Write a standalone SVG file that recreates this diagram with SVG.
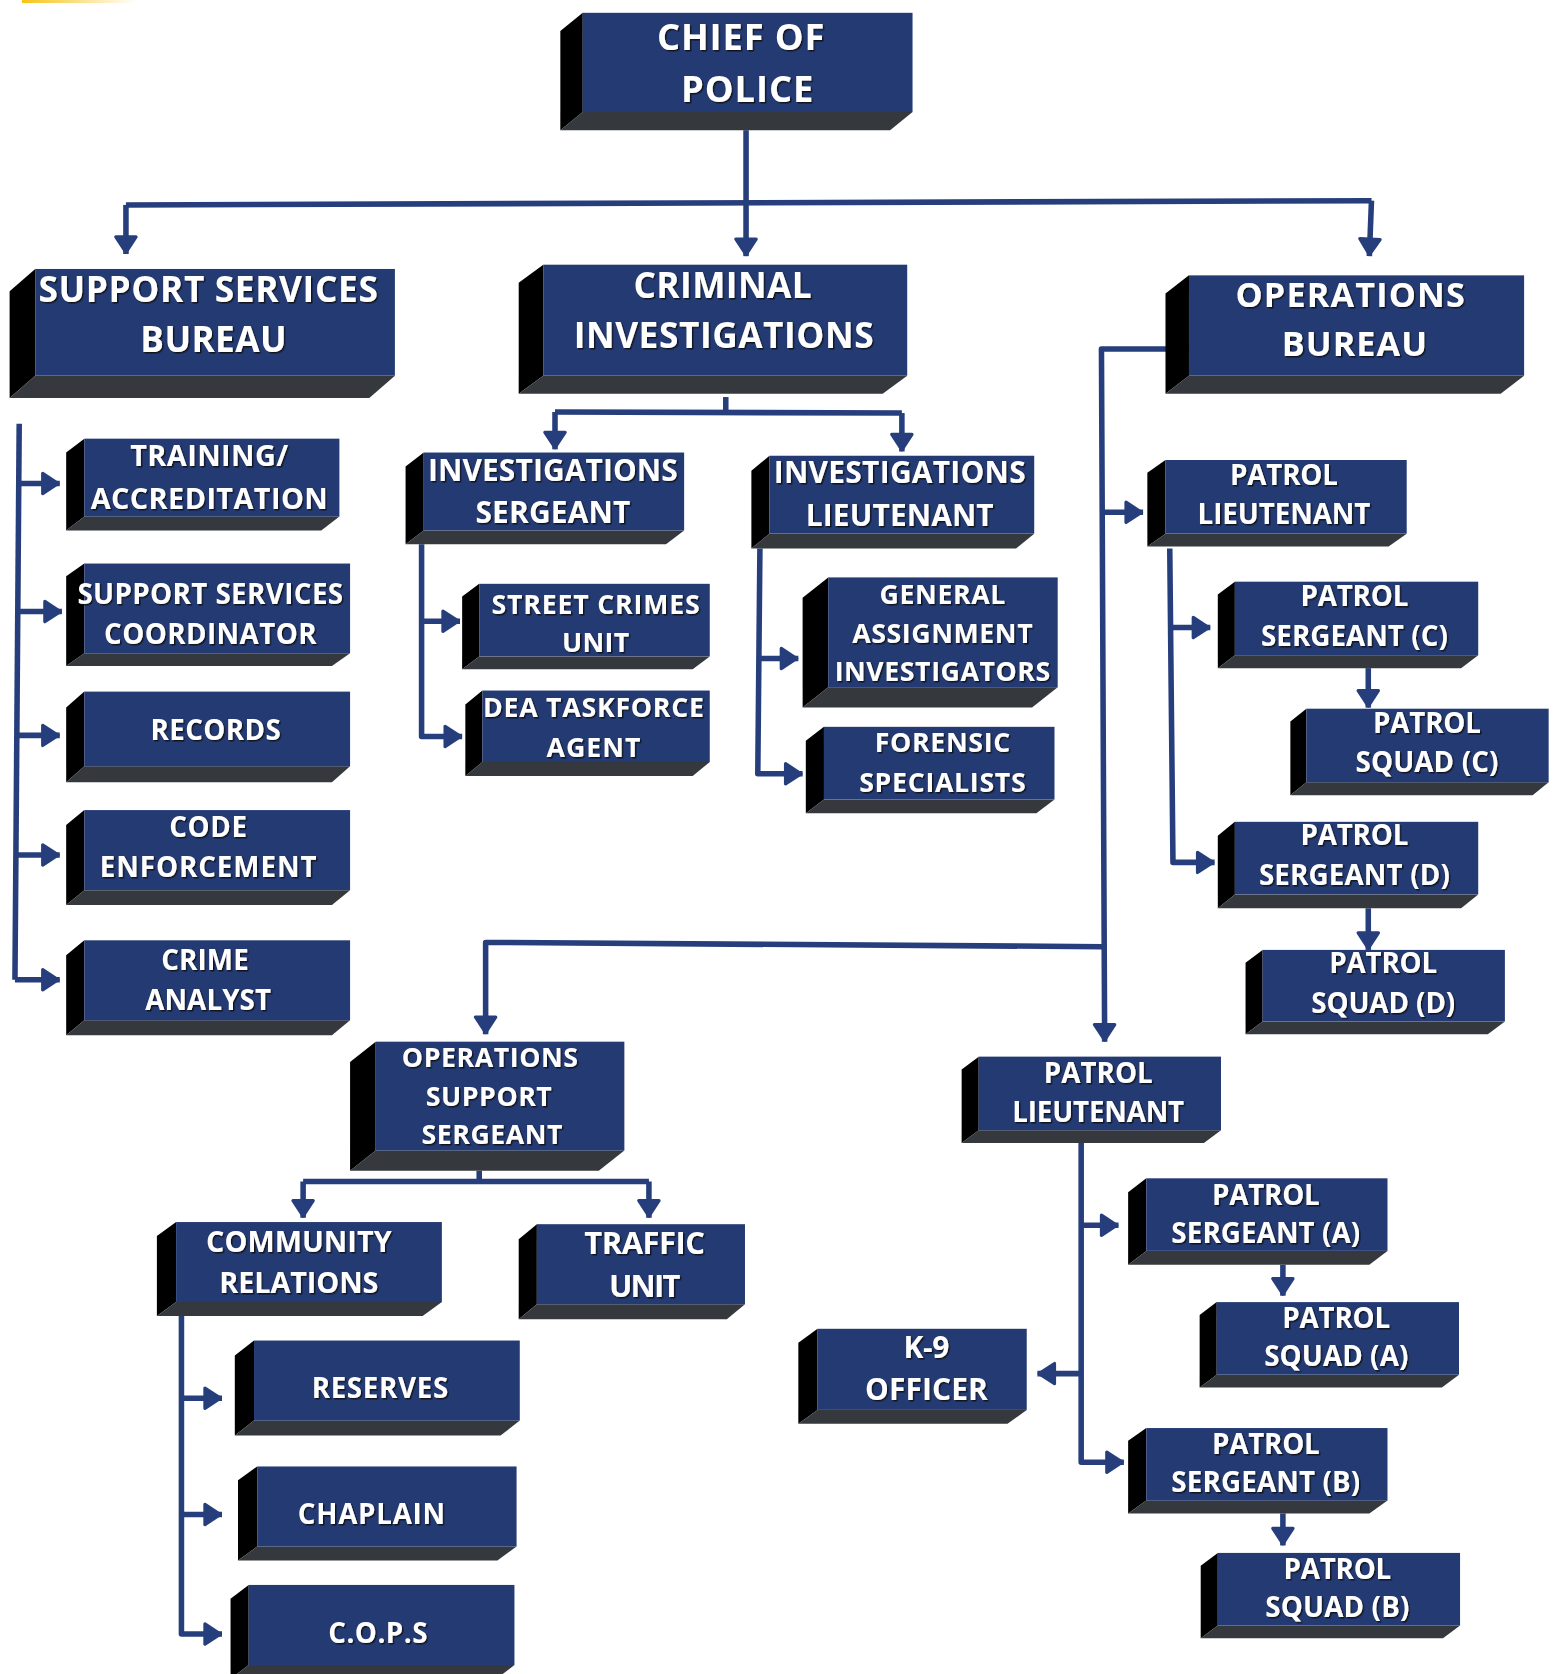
<svg xmlns="http://www.w3.org/2000/svg" width="1554" height="1674" viewBox="0 0 1554 1674">
<defs>
<style>
.f{fill:#243a73}.s{fill:#000}.b{fill:#35383c}
.t{font-family:"Open Sans","Noto Sans","Liberation Sans",sans-serif;font-weight:700;fill:#fff;text-anchor:middle;filter:url(#sh)}
.c{fill:none;stroke:#263e7b;stroke-width:5.2;stroke-linejoin:round}
.a{marker-end:url(#ah)}
</style>
<filter id="sh" x="-10%" y="-30%" width="120%" height="160%">
<feDropShadow dx="1.3" dy="1.3" stdDeviation="0.7" flood-color="#111" flood-opacity="0.85"/>
</filter>
<marker id="ah" viewBox="-20 -14 24 28" refX="0" refY="0" markerWidth="24" markerHeight="28" orient="auto" markerUnits="userSpaceOnUse">
<path d="M-16,-9.5 L-1.5,0 L-16,9.5 Z" fill="#263e7b" stroke="#263e7b" stroke-width="3" stroke-linejoin="round"/>
</marker>
<linearGradient id="yg" x1="0" x2="1"><stop offset="0" stop-color="#f5c518"/><stop offset="1" stop-color="#f5c518" stop-opacity="0"/></linearGradient>
</defs>
<rect width="1554" height="1674" fill="#fff"/>
<rect x="22" y="0" width="115" height="3" fill="url(#yg)"/>
<g transform="scale(1.0673)">
<g id="connectors">
<path class="c a" d="M699,122 L699,240"/>
<path class="c" d="M118,192 L1285,188"/>
<path class="c a" d="M118,192 L118,238"/>
<path class="c a" d="M1285,188 L1283,240"/>
<path class="c" d="M18,397 L14,918"/>
<path class="c a" d="M16,453 L56,453"/>
<path class="c a" d="M16,573 L58,573"/>
<path class="c a" d="M16,689 L56,689"/>
<path class="c a" d="M15,801 L56,801"/>
<path class="c a" d="M14,918 L56,918"/>
<path class="c" d="M680,372 L680,386"/>
<path class="c" d="M520,386 L845,387"/>
<path class="c a" d="M520,386 L520,421"/>
<path class="c a" d="M845,387 L845,423"/>
<path class="c a" d="M395,510 L395,690 L433,690"/>
<path class="c a" d="M395,582 L431,582"/>
<path class="c a" d="M712,514 L710,725 L752,725"/>
<path class="c a" d="M711,617 L748,617"/>
<path class="c a" d="M1114,327 L1032,327 L1035,976"/>
<path class="c a" d="M1033,480 L1071,480"/>
<path class="c a" d="M1033,887 L455,883 L455,969"/>
<path class="c a" d="M1096,514 L1099,808 L1138,808"/>
<path class="c a" d="M1097,588 L1134,588"/>
<path class="c a" d="M1282,626 L1282,663"/>
<path class="c a" d="M1282,851 L1282,890"/>
<path class="c" d="M449,1097 L449,1107"/>
<path class="c" d="M284,1107 L608,1107"/>
<path class="c a" d="M284,1107 L284,1141"/>
<path class="c a" d="M608,1107 L608,1141"/>
<path class="c a" d="M170,1233 L170,1531 L208,1531"/>
<path class="c a" d="M170,1310 L208,1310"/>
<path class="c a" d="M170,1419 L208,1419"/>
<path class="c a" d="M1013,1071 L1013,1370 L1053,1370"/>
<path class="c a" d="M1013,1148 L1048,1148"/>
<path class="c a" d="M1013,1287 L972,1287"/>
<path class="c a" d="M1202,1185 L1202,1214"/>
<path class="c a" d="M1202,1418 L1202,1448"/>
</g>

<g id="chief">
<polygon class="s" points="546,12 525,29 525,122 546,105"/><polygon class="b" points="546,105 525,122 834,122 855,105"/><rect class="f" x="546" y="12" width="309" height="93"/>
<text class="t" font-size="34" x="694" y="47" textLength="157" lengthAdjust="spacing">CHIEF OF</text>
<text class="t" font-size="34" x="700" y="96" textLength="124" lengthAdjust="spacing">POLICE</text>
</g>

<g id="support-services-bureau">
<polygon class="s" points="33,252 9,273 9,373 33,352"/><polygon class="b" points="33,352 9,373 346,373 370,352"/><rect class="f" x="33" y="252" width="337" height="100"/>
<text class="t" font-size="33" x="195" y="283" textLength="318" lengthAdjust="spacing">SUPPORT SERVICES</text>
<text class="t" font-size="33" x="200" y="330" textLength="137" lengthAdjust="spacing">BUREAU</text>
</g>

<g id="criminal-investigations">
<polygon class="s" points="509,248 486,265 486,369 509,352"/><polygon class="b" points="509,352 486,369 827,369 850,352"/><rect class="f" x="509" y="248" width="341" height="104"/>
<text class="t" font-size="33" x="677" y="279" textLength="167" lengthAdjust="spacing">CRIMINAL</text>
<text class="t" font-size="33" x="678" y="326" textLength="281" lengthAdjust="spacing">INVESTIGATIONS</text>
</g>

<g id="operations-bureau">
<polygon class="s" points="1114,258 1092,275 1092,369 1114,352"/><polygon class="b" points="1114,352 1092,369 1406,369 1428,352"/><rect class="f" x="1114" y="258" width="314" height="94"/>
<text class="t" font-size="32" x="1265" y="288" textLength="215" lengthAdjust="spacing">OPERATIONS</text>
<text class="t" font-size="32" x="1269" y="334" textLength="136" lengthAdjust="spacing">BUREAU</text>
</g>

<g id="training-accreditation">
<polygon class="s" points="79,411 62,424 62,497 79,484"/><polygon class="b" points="79,484 62,497 301,497 318,484"/><rect class="f" x="79" y="411" width="239" height="73"/>
<text class="t" font-size="27" x="196" y="437" textLength="148" lengthAdjust="spacing">TRAINING/</text>
<text class="t" font-size="27" x="196" y="477" textLength="222" lengthAdjust="spacing">ACCREDITATION</text>
</g>

<g id="support-services-coordinator">
<polygon class="s" points="79,528 62,540 62,624 79,612"/><polygon class="b" points="79,612 62,624 311,624 328,612"/><rect class="f" x="79" y="528" width="249" height="84"/>
<text class="t" font-size="26" x="197" y="566" textLength="249" lengthAdjust="spacing">SUPPORT SERVICES</text>
<text class="t" font-size="26" x="197" y="603" textLength="199" lengthAdjust="spacing">COORDINATOR</text>
</g>

<g id="records">
<polygon class="s" points="79,648 62,663 62,733 79,718"/><polygon class="b" points="79,718 62,733 311,733 328,718"/><rect class="f" x="79" y="648" width="249" height="70"/>
<text class="t" font-size="26" x="202" y="693" textLength="122" lengthAdjust="spacing">RECORDS</text>
</g>

<g id="code-enforcement">
<polygon class="s" points="79,759 62,773 62,848 79,834"/><polygon class="b" points="79,834 62,848 311,848 328,834"/><rect class="f" x="79" y="759" width="249" height="75"/>
<text class="t" font-size="26" x="195" y="784" textLength="73" lengthAdjust="spacing">CODE</text>
<text class="t" font-size="26" x="195" y="822" textLength="203" lengthAdjust="spacing">ENFORCEMENT</text>
</g>

<g id="crime-analyst">
<polygon class="s" points="79,881 62,895 62,970 79,956"/><polygon class="b" points="79,956 62,970 311,970 328,956"/><rect class="f" x="79" y="881" width="249" height="75"/>
<text class="t" font-size="26" x="192" y="909" textLength="82" lengthAdjust="spacing">CRIME</text>
<text class="t" font-size="26" x="195" y="946" textLength="118" lengthAdjust="spacing">ANALYST</text>
</g>

<g id="investigations-sergeant">
<polygon class="s" points="397,424 380,437 380,510 397,497"/><polygon class="b" points="397,497 380,510 624,510 641,497"/><rect class="f" x="397" y="424" width="244" height="73"/>
<text class="t" font-size="28" x="518" y="451" textLength="234" lengthAdjust="spacing">INVESTIGATIONS</text>
<text class="t" font-size="28" x="518" y="490" textLength="145" lengthAdjust="spacing">SERGEANT</text>
</g>

<g id="street-crimes-unit">
<polygon class="s" points="449,547 433,559 433,627 449,615"/><polygon class="b" points="449,615 433,627 649,627 665,615"/><rect class="f" x="449" y="547" width="216" height="68"/>
<text class="t" font-size="25" x="558" y="575" textLength="195" lengthAdjust="spacing">STREET CRIMES</text>
<text class="t" font-size="25" x="558" y="611" textLength="63" lengthAdjust="spacing">UNIT</text>
</g>

<g id="dea-taskforce-agent">
<polygon class="s" points="452,647 436,660 436,727 452,714"/><polygon class="b" points="452,714 436,727 649,727 665,714"/><rect class="f" x="452" y="647" width="213" height="67"/>
<text class="t" font-size="25" x="556" y="672" textLength="207" lengthAdjust="spacing">DEA TASKFORCE</text>
<text class="t" font-size="25" x="556" y="709" textLength="88" lengthAdjust="spacing">AGENT</text>
</g>

<g id="investigations-lieutenant">
<polygon class="s" points="721,427 704,441 704,514 721,500"/><polygon class="b" points="721,500 704,514 952,514 969,500"/><rect class="f" x="721" y="427" width="248" height="73"/>
<text class="t" font-size="28" x="843" y="453" textLength="236" lengthAdjust="spacing">INVESTIGATIONS</text>
<text class="t" font-size="28" x="843" y="493" textLength="176" lengthAdjust="spacing">LIEUTENANT</text>
</g>

<g id="general-assignment-investigators">
<polygon class="s" points="776,541 752,560 752,663 776,644"/><polygon class="b" points="776,644 752,663 967,663 991,644"/><rect class="f" x="776" y="541" width="215" height="103"/>
<text class="t" font-size="25" x="883" y="566" textLength="118" lengthAdjust="spacing">GENERAL</text>
<text class="t" font-size="25" x="883" y="602" textLength="169" lengthAdjust="spacing">ASSIGNMENT</text>
<text class="t" font-size="25" x="883" y="638" textLength="202" lengthAdjust="spacing">INVESTIGATORS</text>
</g>

<g id="forensic-specialists">
<polygon class="s" points="772,681 755,694 755,762 772,749"/><polygon class="b" points="772,749 755,762 971,762 988,749"/><rect class="f" x="772" y="681" width="216" height="68"/>
<text class="t" font-size="25" x="883" y="705" textLength="127" lengthAdjust="spacing">FORENSIC</text>
<text class="t" font-size="25" x="883" y="742" textLength="156" lengthAdjust="spacing">SPECIALISTS</text>
</g>

<g id="patrol-lieutenant-1">
<polygon class="s" points="1092,431 1075,443 1075,512 1092,500"/><polygon class="b" points="1092,500 1075,512 1301,512 1318,500"/><rect class="f" x="1092" y="431" width="226" height="69"/>
<text class="t" font-size="26" x="1203" y="454" textLength="101" lengthAdjust="spacing">PATROL</text>
<text class="t" font-size="26" x="1203" y="491" textLength="162" lengthAdjust="spacing">LIEUTENANT</text>
</g>

<g id="patrol-sergeant-c">
<polygon class="s" points="1157,545 1141,557 1141,626 1157,614"/><polygon class="b" points="1157,614 1141,626 1369,626 1385,614"/><rect class="f" x="1157" y="545" width="228" height="69"/>
<text class="t" font-size="26" x="1269" y="568" textLength="101" lengthAdjust="spacing">PATROL</text>
<text class="t" font-size="26" x="1269" y="605" textLength="175" lengthAdjust="spacing">SERGEANT (C)</text>
</g>

<g id="patrol-squad-c">
<polygon class="s" points="1224,664 1209,676 1209,745 1224,733"/><polygon class="b" points="1224,733 1209,745 1436,745 1451,733"/><rect class="f" x="1224" y="664" width="227" height="69"/>
<text class="t" font-size="26" x="1337" y="687" textLength="101" lengthAdjust="spacing">PATROL</text>
<text class="t" font-size="26" x="1337" y="723" textLength="134" lengthAdjust="spacing">SQUAD (C)</text>
</g>

<g id="patrol-sergeant-d">
<polygon class="s" points="1157,770 1141,783 1141,851 1157,838"/><polygon class="b" points="1157,838 1141,851 1369,851 1385,838"/><rect class="f" x="1157" y="770" width="228" height="68"/>
<text class="t" font-size="26" x="1269" y="792" textLength="101" lengthAdjust="spacing">PATROL</text>
<text class="t" font-size="26" x="1269" y="829" textLength="179" lengthAdjust="spacing">SERGEANT (D)</text>
</g>

<g id="patrol-squad-d">
<polygon class="s" points="1183,890 1167,902 1167,969 1183,957"/><polygon class="b" points="1183,957 1167,969 1394,969 1410,957"/><rect class="f" x="1183" y="890" width="227" height="67"/>
<text class="t" font-size="26" x="1296" y="912" textLength="101" lengthAdjust="spacing">PATROL</text>
<text class="t" font-size="26" x="1296" y="949" textLength="135" lengthAdjust="spacing">SQUAD (D)</text>
</g>

<g id="operations-support-sergeant">
<polygon class="s" points="352,976 328,995 328,1097 352,1078"/><polygon class="b" points="352,1078 328,1097 561,1097 585,1078"/><rect class="f" x="352" y="976" width="233" height="102"/>
<text class="t" font-size="25" x="459" y="1000" textLength="165" lengthAdjust="spacing">OPERATIONS</text>
<text class="t" font-size="25" x="458" y="1036" textLength="118" lengthAdjust="spacing">SUPPORT</text>
<text class="t" font-size="25" x="461" y="1072" textLength="132" lengthAdjust="spacing">SERGEANT</text>
</g>

<g id="community-relations">
<polygon class="s" points="165,1145 147,1158 147,1233 165,1220"/><polygon class="b" points="165,1220 147,1233 396,1233 414,1220"/><rect class="f" x="165" y="1145" width="249" height="75"/>
<text class="t" font-size="27" x="280" y="1173" textLength="174" lengthAdjust="spacing">COMMUNITY</text>
<text class="t" font-size="27" x="280" y="1211" textLength="149" lengthAdjust="spacing">RELATIONS</text>
</g>

<g id="traffic-unit">
<polygon class="s" points="503,1147 486,1161 486,1236 503,1222"/><polygon class="b" points="503,1222 486,1236 681,1236 698,1222"/><rect class="f" x="503" y="1147" width="195" height="75"/>
<text class="t" font-size="29" x="604" y="1175" textLength="113" lengthAdjust="spacing">TRAFFIC</text>
<text class="t" font-size="29" x="604" y="1215" textLength="67" lengthAdjust="spacing">UNIT</text>
</g>

<g id="reserves">
<polygon class="s" points="238,1256 220,1270 220,1345 238,1331"/><polygon class="b" points="238,1331 220,1345 469,1345 487,1331"/><rect class="f" x="238" y="1256" width="249" height="75"/>
<text class="t" font-size="26" x="356" y="1310" textLength="128" lengthAdjust="spacing">RESERVES</text>
</g>

<g id="chaplain">
<polygon class="s" points="241,1374 223,1387 223,1462 241,1449"/><polygon class="b" points="241,1449 223,1462 466,1462 484,1449"/><rect class="f" x="241" y="1374" width="243" height="75"/>
<text class="t" font-size="26" x="348" y="1428" textLength="138" lengthAdjust="spacing">CHAPLAIN</text>
</g>

<g id="cops">
<polygon class="s" points="233,1485 216,1498 216,1573 233,1560"/><polygon class="b" points="233,1560 216,1573 465,1573 482,1560"/><rect class="f" x="233" y="1485" width="249" height="75"/>
<text class="t" font-size="26" x="354" y="1539" textLength="93" lengthAdjust="spacing">C.O.P.S</text>
</g>

<g id="patrol-lieutenant-2">
<polygon class="s" points="917,990 901,1002 901,1071 917,1059"/><polygon class="b" points="917,1059 901,1071 1128,1071 1144,1059"/><rect class="f" x="917" y="990" width="227" height="69"/>
<text class="t" font-size="26" x="1029" y="1015" textLength="102" lengthAdjust="spacing">PATROL</text>
<text class="t" font-size="26" x="1029" y="1051" textLength="161" lengthAdjust="spacing">LIEUTENANT</text>
</g>

<g id="patrol-sergeant-a">
<polygon class="s" points="1074,1104 1057,1117 1057,1185 1074,1172"/><polygon class="b" points="1074,1172 1057,1185 1283,1185 1300,1172"/><rect class="f" x="1074" y="1104" width="226" height="68"/>
<text class="t" font-size="26" x="1186" y="1129" textLength="101" lengthAdjust="spacing">PATROL</text>
<text class="t" font-size="26" x="1186" y="1165" textLength="177" lengthAdjust="spacing">SERGEANT (A)</text>
</g>

<g id="patrol-squad-a">
<polygon class="s" points="1140,1220 1124,1232 1124,1300 1140,1288"/><polygon class="b" points="1140,1288 1124,1300 1351,1300 1367,1288"/><rect class="f" x="1140" y="1220" width="227" height="68"/>
<text class="t" font-size="26" x="1252" y="1244" textLength="101" lengthAdjust="spacing">PATROL</text>
<text class="t" font-size="26" x="1252" y="1280" textLength="135" lengthAdjust="spacing">SQUAD (A)</text>
</g>

<g id="k9-officer">
<polygon class="s" points="766,1245 748,1258 748,1334 766,1321"/><polygon class="b" points="766,1321 748,1334 944,1334 962,1321"/><rect class="f" x="766" y="1245" width="196" height="76"/>
<text class="t" font-size="28" x="868" y="1272" textLength="43" lengthAdjust="spacing">K-9</text>
<text class="t" font-size="28" x="868" y="1312" textLength="115" lengthAdjust="spacing">OFFICER</text>
</g>

<g id="patrol-sergeant-b">
<polygon class="s" points="1074,1338 1057,1350 1057,1418 1074,1406"/><polygon class="b" points="1074,1406 1057,1418 1283,1418 1300,1406"/><rect class="f" x="1074" y="1338" width="226" height="68"/>
<text class="t" font-size="26" x="1186" y="1362" textLength="101" lengthAdjust="spacing">PATROL</text>
<text class="t" font-size="26" x="1186" y="1398" textLength="177" lengthAdjust="spacing">SERGEANT (B)</text>
</g>

<g id="patrol-squad-b">
<polygon class="s" points="1141,1455 1125,1467 1125,1535 1141,1523"/><polygon class="b" points="1141,1523 1125,1535 1352,1535 1368,1523"/><rect class="f" x="1141" y="1455" width="227" height="68"/>
<text class="t" font-size="26" x="1253" y="1479" textLength="101" lengthAdjust="spacing">PATROL</text>
<text class="t" font-size="26" x="1253" y="1515" textLength="135" lengthAdjust="spacing">SQUAD (B)</text>
</g>
</g>
</svg>
